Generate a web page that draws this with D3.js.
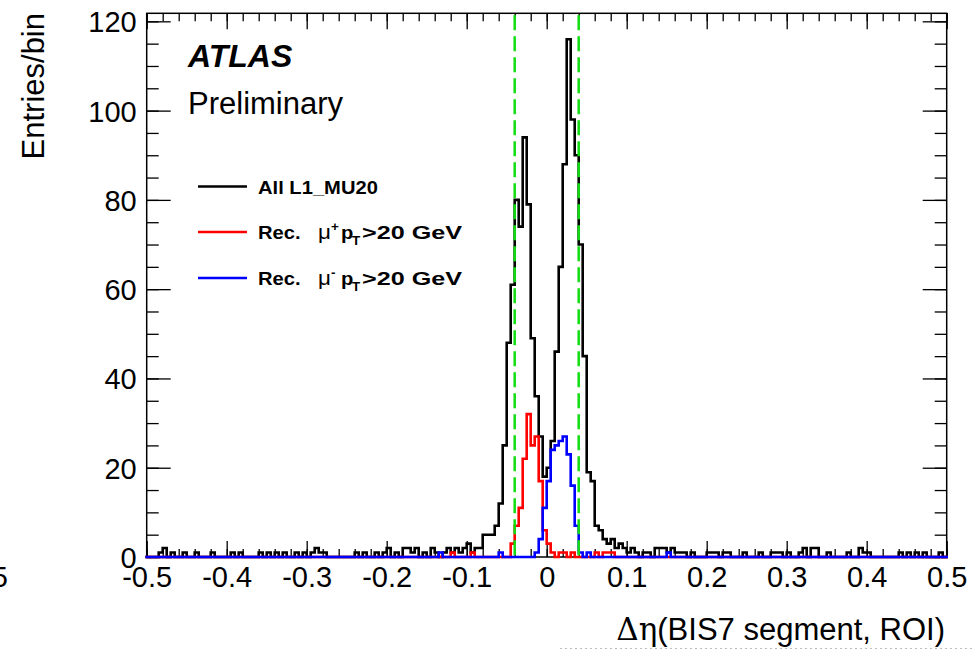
<!DOCTYPE html>
<html><head><meta charset="utf-8">
<script src="https://cdn.jsdelivr.net/npm/d3@7"></script>
<style>
body{margin:0;background:#fff}
svg{display:block}
text{font-family:"Liberation Sans",Arial,Helvetica,sans-serif;fill:#000}
</style>
</head><body><svg id="c" width="972" height="650"></svg>
<script>
// ---------------- data ----------------
const xDomain = [-0.5, 0.5];
const yDomain = [0, 121.8];
const nBins = 200;
const allL1 = [
0,0,0,1,2,0,1,0,0,1,0,0,1,0,0,0,1,0,0,0,
0,1,0,1,0,0,0,0,1,0,1,0,1,0,1,0,0,1,0,1,
0,1,2,1,1,0,0,0,0,0,0,0,1,0,1,0,0,1,0,1,
2,0,1,0,2,2,1,2,0,1,0,2,1,0,1,2,1,2,1,2,
3,1,2,2,5,5,5,7,12,25,48,61,80,74,94,79,49,36,27,18,
20,26,46,65,88,116,98,90,70,45,19,17,7,6,4,3,4,2,3,2,
1,2,1,0,1,1,0,2,2,2,1,2,1,1,1,0,1,0,0,0,
1,1,1,0,1,1,0,0,0,1,0,0,0,1,0,0,1,1,1,0,
1,0,0,1,2,0,2,2,0,0,1,0,0,0,0,1,0,0,2,1,
1,0,0,0,0,0,0,0,1,0,1,0,1,0,1,0,0,0,1,0
];
const muPlus = [
0,0,0,0,0,0,0,0,0,0,0,0,0,0,0,0,0,0,0,0,
0,0,0,0,0,0,0,0,0,0,0,0,0,0,0,0,0,0,0,0,
0,0,0,0,0,0,0,0,0,0,0,0,0,0,0,0,0,0,0,0,
0,0,0,0,0,0,0,0,0,0,0,0,0,0,0,0,1,0,0,0,
0,1,0,0,0,0,0,0,0,0,0,3,7,11,22,32,25,27,17,6,
3,1,0,1,1,0,1,0,0,0,0,0,1,0,1,1,1,0,0,0,
0,0,0,0,0,0,0,0,0,0,0,0,0,0,0,0,0,0,0,0,
0,0,0,0,0,0,0,0,0,0,0,0,0,0,0,0,0,0,0,0,
0,0,0,0,0,0,0,0,0,0,0,0,0,0,0,0,0,0,0,0,
0,0,0,0,0,0,0,0,0,0,0,0,0,0,0,0,0,0,0,0
];
const muMinus = [
0,0,0,0,0,0,0,0,0,0,0,0,0,0,0,0,0,0,0,0,
0,0,0,0,0,0,0,0,0,0,0,0,0,0,0,0,0,0,0,0,
0,0,0,0,0,0,0,0,0,0,0,0,0,0,0,0,0,0,0,0,
0,0,0,0,0,0,0,0,0,0,0,0,0,1,0,0,0,0,0,0,
0,0,0,0,0,0,0,0,1,0,0,0,0,0,0,0,0,1,4,11,
17,24,25,26,27,23,16,7,1,0,1,0,0,0,0,0,0,0,0,0,
0,0,0,0,0,0,0,0,0,0,1,0,0,0,0,0,0,0,0,0,
0,0,0,0,0,0,0,0,0,0,0,0,0,0,0,0,0,0,0,0,
0,0,0,0,0,0,0,0,0,0,0,0,0,0,0,0,0,0,0,0,
0,0,0,0,0,0,0,0,0,0,0,0,0,0,0,0,0,0,0,0
];
const cutLines = [-0.04, 0.04];
const xTickLabels = [-0.5,-0.4,-0.3,-0.2,-0.1,0,0.1,0.2,0.3,0.4,0.5];
const xMinorTicks = d3.range(-50, 51, 2).map(v => v / 100);
const yTickLabels = [0,20,40,60,80,100,120];
const yMinorTicks = d3.range(0, 121, 5);
const seriesNames = ["All L1_MU20", "Rec. \u03bc+ pT>20 GeV", "Rec. \u03bc- pT>20 GeV"];
const seriesColors = ["#000000", "#ff0000", "#0000ff"];

// ---------------- layout ----------------
const svg = d3.select("#c");
const L = 146.7, R = 946.7, T = 13.3, B = 557;
const x = d3.scaleLinear().domain(xDomain).range([L, R]);
const y = d3.scaleLinear().domain(yDomain).range([B, T]);
const edges = d3.range(nBins + 1).map(i => xDomain[0] + (xDomain[1] - xDomain[0]) * i / nBins);

function fmt(v){ return v === 0 ? "0" : (Math.round(v*10)/10).toString(); }

// frame
svg.append("rect").attr("x", L).attr("y", T).attr("width", R - L).attr("height", B - T)
  .attr("fill", "none").attr("stroke", "#000").attr("stroke-width", 1.5);

// ticks via d3 axes (inward ticks)
const gxB = svg.append("g").attr("transform", `translate(0,${B})`)
  .call(d3.axisBottom(x).tickValues(xTickLabels).tickSize(-16).tickFormat(fmt).tickPadding(8));
svg.append("g").attr("transform", `translate(0,${B})`)
  .call(d3.axisBottom(x).tickValues(xMinorTicks).tickSize(-8).tickFormat(""));
svg.append("g").attr("transform", `translate(0,${T})`)
  .call(d3.axisTop(x).tickValues(xTickLabels).tickSize(-16).tickFormat(""));
svg.append("g").attr("transform", `translate(0,${T})`)
  .call(d3.axisTop(x).tickValues(xMinorTicks).tickSize(-8).tickFormat(""));
const gyL = svg.append("g").attr("transform", `translate(${L},0)`)
  .call(d3.axisLeft(y).tickValues(yTickLabels).tickSize(-24).tickPadding(10).tickFormat(d3.format("d")));
svg.append("g").attr("transform", `translate(${L},0)`)
  .call(d3.axisLeft(y).tickValues(yMinorTicks).tickSize(-12).tickFormat(""));
svg.append("g").attr("transform", `translate(${R},0)`)
  .call(d3.axisRight(y).tickValues(yTickLabels).tickSize(-24).tickFormat(""));
svg.append("g").attr("transform", `translate(${R},0)`)
  .call(d3.axisRight(y).tickValues(yMinorTicks).tickSize(-12).tickFormat(""));

svg.selectAll(".domain").remove();
svg.selectAll(".tick line").attr("stroke", "#000").attr("stroke-width", 1.3);
svg.selectAll(".tick text").attr("font-size", 29).attr("fill", "#000")
  .attr("font-family", '"Liberation Sans",Arial,sans-serif');
gxB.selectAll(".tick text").attr("dy", "0.72em").attr("y", 9);
gyL.selectAll(".tick text").attr("dy", "0.36em").attr("x", -10);

// cropped neighbour label at the far left
svg.append("text").attr("x", 8).attr("y", 587).attr("text-anchor", "end")
  .attr("font-size", 29).text("0.5");

// histograms
function stepPath(vals){
  const pts = vals.map((v, i) => [edges[i], v]);
  pts.push([edges[nBins], vals[nBins - 1]]);
  return d3.line().x(d => x(d[0])).y(d => y(d[1])).curve(d3.curveStepAfter)(pts);
}
const seriesData = [allL1, muPlus, muMinus];
seriesData.forEach((vals, k) => {
  svg.append("path").attr("d", stepPath(vals)).attr("fill", "none")
    .attr("stroke", seriesColors[k]).attr("stroke-width", 2.6)
    .attr("stroke-linejoin", "miter").attr("stroke-linecap", "square");
});

// cut lines
cutLines.forEach(c => {
  svg.append("line").attr("x1", x(c)).attr("x2", x(c)).attr("y1", T + 2).attr("y2", B)
    .attr("stroke", "#11dd11").attr("stroke-width", 2.5).attr("stroke-dasharray", "15,6");
});

// ATLAS label
svg.append("text").attr("x", 188).attr("y", 67).attr("font-size", 32)
  .attr("font-weight", "bold").attr("font-style", "italic").text("ATLAS");
svg.append("text").attr("x", 188).attr("y", 114).attr("font-size", 31).text("Preliminary");

// legend (text slightly widened, as in the reference rendering)
const legY = [186.5, 232, 278];
const sx = 1.12;
legY.forEach((ly, k) => {
  svg.append("line").attr("x1", 198).attr("x2", 247).attr("y1", ly).attr("y2", ly)
    .attr("stroke", seriesColors[k]).attr("stroke-width", 2.6);
});
svg.append("g").attr("transform", `translate(258,${legY[0] + 7})`)
  .append("text").attr("transform", `scale(${sx},1)`).attr("font-size", 18)
  .attr("font-weight", "bold").text(seriesNames[0]);
[1, 2].forEach(k => {
  const g = svg.append("g").attr("transform", `translate(0,${legY[k] + 7})`);
  const piece = (px, txt, opts = {}) => {
    const t = g.append("g").attr("transform", `translate(${px},${opts.dy || 0}) scale(${sx},1)`)
      .append("text").attr("font-size", opts.size || 18).attr("font-weight", opts.weight || "bold")
      .text(txt);
    if (opts.family) t.attr("font-family", opts.family);
    if (opts.len) t.attr("textLength", opts.len / sx).attr("lengthAdjust", "spacingAndGlyphs");
    return t;
  };
  piece(258, "Rec.");
  piece(318, "\u03bc", {weight: "normal", size: 20, family: '"DejaVu Serif","Liberation Serif",serif'});
  piece(331, k === 1 ? "+" : "-", {size: 12, dy: -8});
  piece(341, "p");
  piece(352, "T", {size: 12, dy: 6});
  piece(362, ">20 GeV", {len: 100});
});

// axis titles
svg.append("text").attr("transform", "translate(44,13) rotate(-90)").attr("text-anchor", "end")
  .attr("font-size", 31).text("Entries/bin");
const xt = svg.append("text").attr("x", 945).attr("y", 640).attr("text-anchor", "end").attr("font-size", 31);
xt.append("tspan").attr("font-family", '"DejaVu Serif","Liberation Serif",serif').text("\u0394\u03b7");
xt.append("tspan").text("(BIS7 segment, ROI)");

// faint dotted rule at the bottom
svg.append("line").attr("x1", 560).attr("x2", 972).attr("y1", 648.5).attr("y2", 648.5)
  .attr("stroke", "#bbb").attr("stroke-width", 1).attr("stroke-dasharray", "2,3");
</script>
</body></html>
